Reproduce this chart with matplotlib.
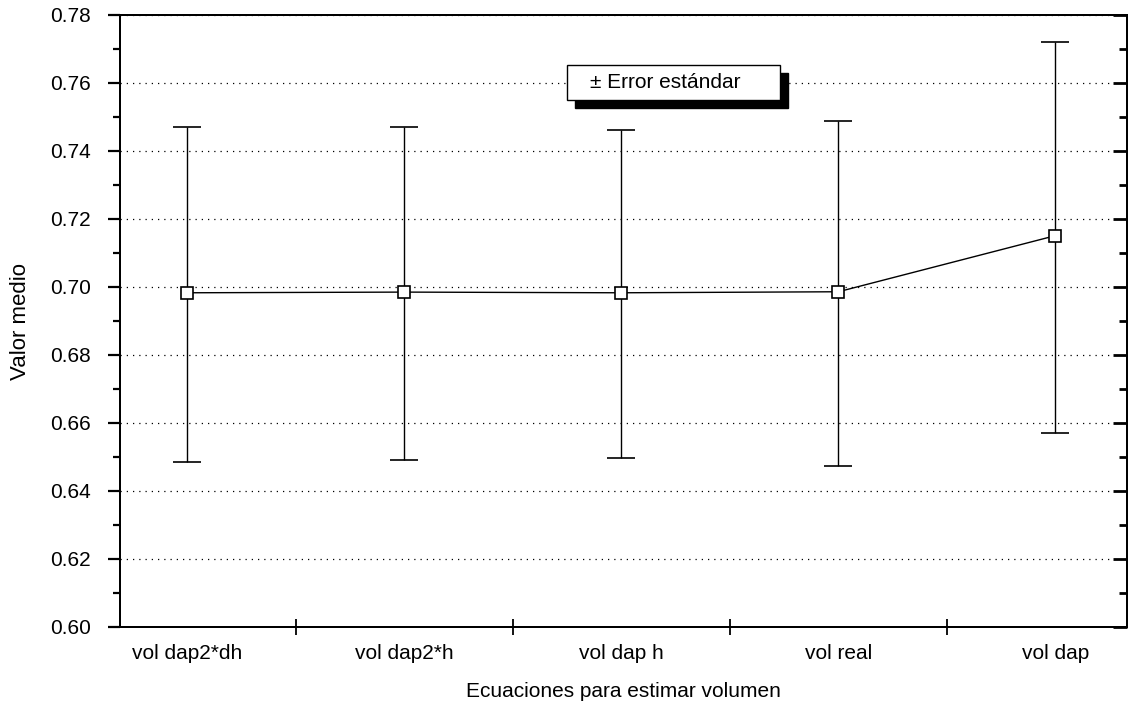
import matplotlib
matplotlib.use("Agg")
import matplotlib.pyplot as plt
from matplotlib.patches import Rectangle

plt.rcParams["font.family"] = ["Liberation Sans", "DejaVu Sans"]

categories = ["vol dap2*dh", "vol dap2*h", "vol dap h", "vol real", "vol dap"]
means = [0.6983, 0.6985, 0.6983, 0.6986, 0.7151]
upper = [0.7470, 0.7470, 0.7461, 0.7487, 0.7720]
lower = [0.6484, 0.6490, 0.6496, 0.6475, 0.6570]

x = list(range(len(categories)))
err_lo = [m - l for m, l in zip(means, lower)]
err_hi = [u - m for m, u in zip(means, upper)]

fig = plt.figure(figsize=(11.29, 7.02), dpi=100)
ax = fig.add_axes([120 / 1129, 75 / 702, 1007 / 1129, 612 / 702])

ax.errorbar(x, means, yerr=[err_lo, err_hi], fmt="none", ecolor="black",
            elinewidth=1, capsize=10, capthick=1.2, zorder=2)
ax.plot(x, means, color="black", lw=1, marker="s", markersize=8,
        markerfacecolor="white", markeredgecolor="black", markeredgewidth=1.2, zorder=3)

ax.set_ylim(0.60, 0.78)
ax.set_xlim(-0.31, 4.33)
ax.set_yticks([0.60 + 0.02 * i for i in range(10)])
ax.set_yticks([0.61 + 0.02 * i for i in range(9)], minor=True)
ax.set_yticklabels([f"{0.60 + 0.02 * i:.2f}" for i in range(10)], fontsize=15)
ax.yaxis.grid(True, which="major", linestyle=(0, (1, 4)), color="black", lw=0.9)

ax.set_xticks([0.5, 1.5, 2.5, 3.5])
ax.set_xticklabels([])
ax.set_xticks(x, minor=True)
ax.set_xticklabels(categories, minor=True, fontsize=15)
ax.tick_params(axis="x", which="major", direction="inout", length=11, width=1.3)
ax.tick_params(axis="x", which="minor", length=0, pad=12)
ax.tick_params(axis="y", which="major", direction="out", length=9, width=1.6, pad=12)
ax.tick_params(axis="y", which="minor", direction="out", length=5, width=1.6)

# inward ticks on the right spine
ax2 = ax.twinx()
ax2.set_ylim(ax.get_ylim())
ax2.set_yticks(ax.get_yticks())
ax2.set_yticks([0.61 + 0.02 * i for i in range(9)], minor=True)
ax2.set_yticklabels([])
ax2.tick_params(axis="y", which="major", direction="in", length=10, width=2)
ax2.tick_params(axis="y", which="minor", direction="in", length=6, width=2)

for s in list(ax.spines.values()) + list(ax2.spines.values()):
    s.set_linewidth(1.4)

ax.set_ylabel("Valor medio", fontsize=16, labelpad=14)
ax.set_xlabel("Ecuaciones para estimar volumen", fontsize=15, labelpad=14)

# legend box with hard black shadow
bx, by, bw, bh = 0.4439, 0.8611, 0.2115, 0.0572
ax.add_patch(Rectangle((bx + 0.008, by - 0.013), bw, bh, transform=ax.transAxes,
                       fc="black", ec="black", zorder=6))
ax.add_patch(Rectangle((bx, by), bw, bh, transform=ax.transAxes,
                       fc="white", ec="black", lw=1, zorder=7))
ax.text(0.541, by + bh / 2, "± Error estándar", transform=ax.transAxes, fontsize=15,
        ha="center", va="center", zorder=8)

fig.savefig("out.png", dpi=100)
